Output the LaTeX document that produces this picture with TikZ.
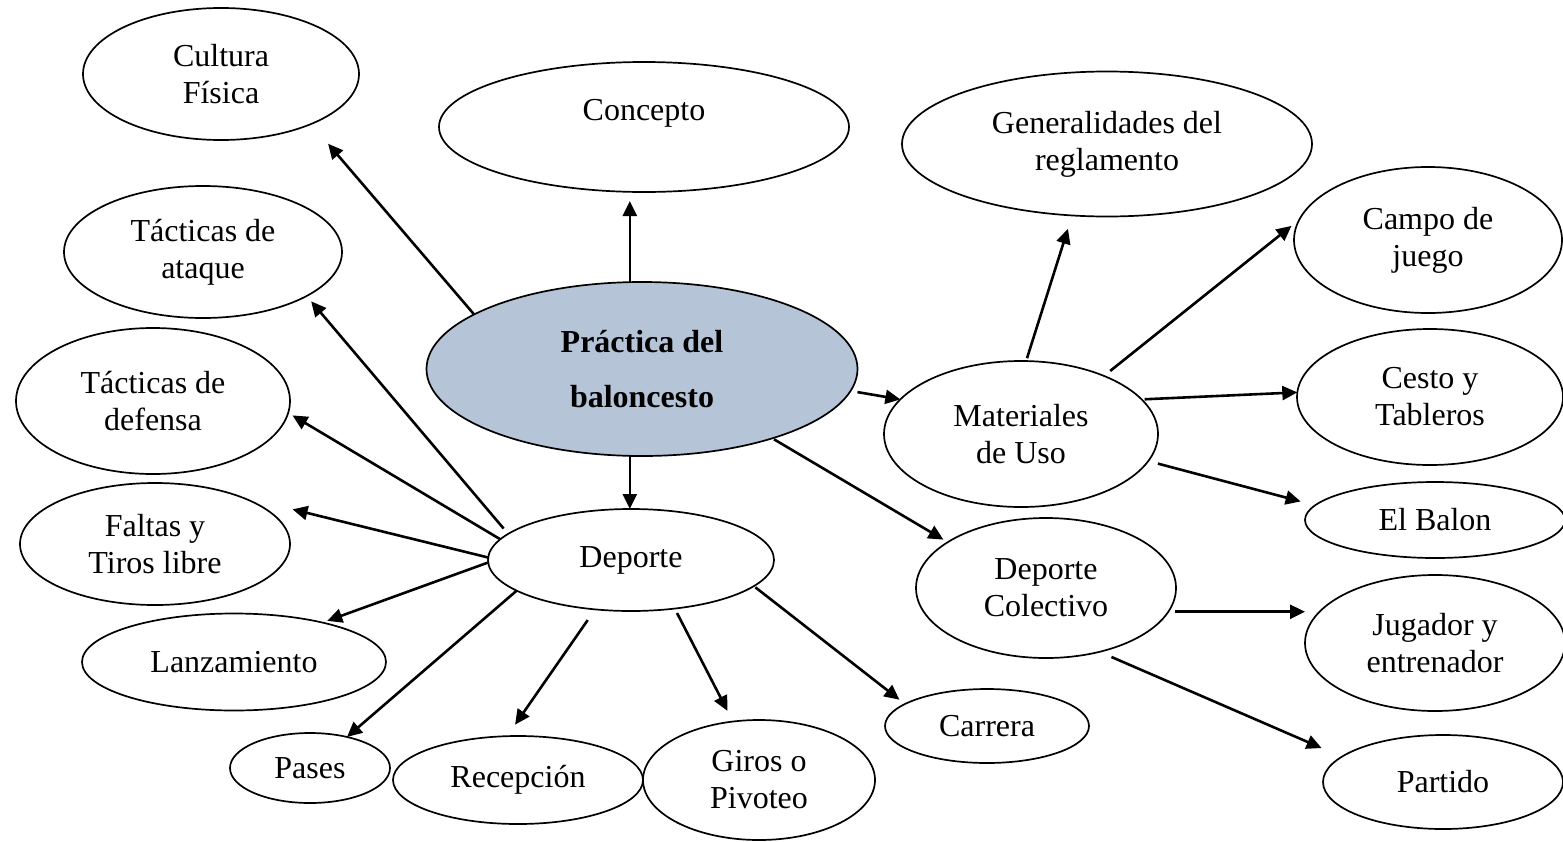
\documentclass[tikz,border=0pt]{standalone}
\usepackage{fontspec}
\setmainfont{Liberation Serif}
\usetikzlibrary{shapes.geometric,arrows.meta}
\definecolor{prfill}{RGB}{182,196,216}
\begin{document}
\begin{tikzpicture}
[x=1pt,y=-1pt,
e/.style 2 args={ellipse,draw,line width=1.7pt,inner sep=0pt,outer sep=0pt,align=center,
  minimum width=#1,minimum height=#2,font=\fontsize{32}{37}\selectfont},
a/.style={line width=2.6pt,-{Triangle[length=15pt,width=14pt]}}]
\useasboundingbox (0,0) rectangle (1563,841);
\node(cf) at (221,74)[e={276pt}{132pt}]{Cultura\\Física};
\node(co) at (644,127)[e={410pt}{130pt},text depth=34pt]{Concepto};
\node(ge) at (1107,144)[e={410pt}{145pt}]{Generalidades del\\reglamento};
\node(cj) at (1428,240)[e={268pt}{146pt}]{Campo de\\juego};
\node(ta) at (203,252)[e={278pt}{132pt}]{Tácticas de\\ataque};
\node(pr) at (642,369)[e={431pt}{174pt},fill=prfill,font=\bfseries\fontsize{32}{55}\selectfont]{Práctica del\\baloncesto};
\node(td) at (153,401)[e={274pt}{146pt}]{Tácticas de\\defensa};
\node(mu) at (1021,434)[e={274pt}{146pt}]{Materiales\\de Uso};
\node(ct) at (1430,397)[e={266pt}{136pt}]{Cesto y\\Tableros};
\node(ft) at (155,544)[e={270pt}{122pt}]{Faltas y\\Tiros libre};
\node(de) at (631,560)[e={286pt}{102pt}]{Deporte};
\node(eb) at (1435,520)[e={260pt}{76pt}]{El Balon};
\node(dc) at (1046,588)[e={260pt}{140pt}]{Deporte\\Colectivo};
\node(la) at (234,662)[e={304pt}{97pt}]{Lanzamiento};
\node(je) at (1435,643)[e={260pt}{136pt}]{Jugador y\\entrenador};
\node(ca) at (987,726)[e={204pt}{74pt}]{Carrera};
\node(pa) at (310,768)[e={160pt}{70pt}]{Pases};
\node(re) at (518,780)[e={250pt}{88pt}]{Recepción};
\node(gi) at (759,780)[e={232pt}{120pt}]{Giros o\\Pivoteo};
\node(pt) at (1443,782)[e={240pt}{94pt}]{Partido};
% central ellipse
\draw[a,shorten >=9pt](pr.98)--(pr.98 |- co.south);
\draw[a,shorten >=26pt](pr.162)--(cf.-29);
\draw[a](pr.262)--(pr.262 |- de.north);
\draw[a,shorten <=7pt](pr.-6)--(mu.164);
\draw[a,shorten <=2pt,shorten >=5pt](pr.-28)--(dc.155);
% Deporte
\draw[a,shorten <=7pt,shorten >=7pt](de.168)--(ta.-23);
\draw[a,shorten >=5pt](de.171)--(td.-5);
\draw[a,shorten >=56pt](de.179)--(ft.30);
\draw[a,shorten >=5pt](de.181)--(la.24);
\draw[a](de.195)--(pa.40);
\draw[a,shorten <=13pt,shorten >=14pt](de.-126)--(re.104);
\draw[a,shorten <=5pt,shorten >=12pt](de.-48)--(gi.114);
\draw[a,shorten <=2pt,shorten >=7pt](de.-12)--(ca.165);
% Materiales de Uso
\draw[a,shorten <=3pt,shorten >=14pt](mu.86)--(ge.244);
\draw[a,shorten <=8pt,shorten >=10pt](mu.35)--(cj.171);
\draw[a,shorten <=3pt](mu.16)--(ct.178);
\draw[a,shorten <=10pt,shorten >=15pt](mu.-12)--(eb.173);
% Deporte Colectivo
\draw[a,shorten <=7pt](dc.-11)--(dc.-11 -| je.west);
\draw[a,shorten <=13pt,shorten >=22pt](dc.-50)--(pt.166);
\end{tikzpicture}
\end{document}
